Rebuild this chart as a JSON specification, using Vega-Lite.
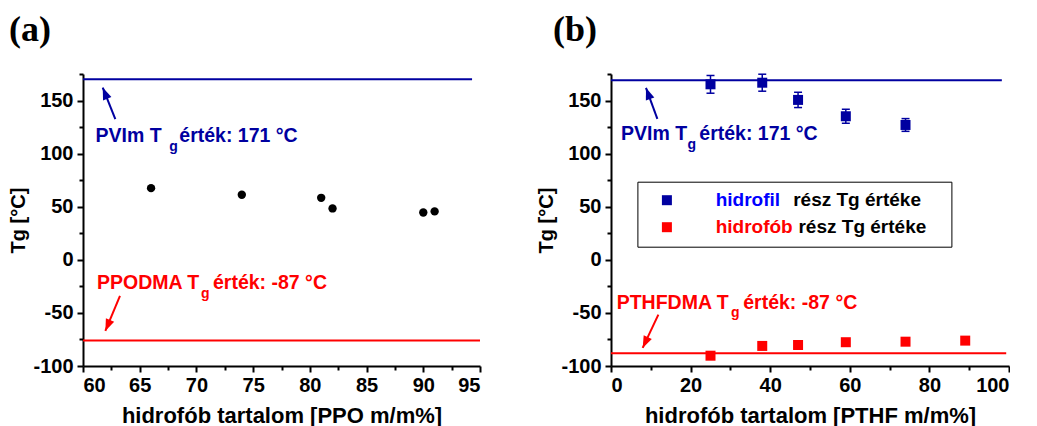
{
  "$schema": "https://vega.github.io/schema/vega-lite/v6.json",
  "padding": {"left": 8, "top": 12, "right": 0, "bottom": 0},
  "spacing": 55,
  "config": {
    "view": {"stroke": null},
    "font": "Liberation Sans",
    "axis": {
      "grid": false,
      "domainColor": "black", "domainWidth": 2,
      "tickColor": "black", "tickWidth": 2, "tickSize": 6,
      "labelFont": "Liberation Sans", "labelFontSize": 20, "labelFontWeight": "bold", "labelColor": "black",
      "labelExpr": "replace(datum.label, '\u2212', '-')",
      "titleFont": "Liberation Sans", "titleFontSize": 22, "titleFontWeight": "bold", "titleColor": "black"
    },
    "axisX": {"labelPadding": 3, "titlePadding": 10},
    "axisY": {"labelPadding": 4, "titlePadding": 4, "titleFontSize": 20},
    "title": {"font": "Liberation Serif", "fontSize": 36, "fontWeight": "bold", "color": "black", "anchor": "start", "frame": "bounds"}
  },
  "datasets": {
    "ptsA": [
      {"x": 66, "Tg": 67.5}, {"x": 74, "Tg": 61.3}, {"x": 81, "Tg": 58.4},
      {"x": 82, "Tg": 48.4}, {"x": 90, "Tg": 44.6}, {"x": 91, "Tg": 45.6}
    ],
    "linesA": [
      {"grp": "PVIm", "x": 60, "x2": 94.3, "y": 170},
      {"grp": "PPODMA", "x": 60, "x2": 95, "y": -76}
    ],
    "arrowsA": [
      {"grp": "PVIm", "x": 62.85, "y": 132.4, "x2": 61.74, "y2": 162.2},
      {"grp": "PPODMA", "x": 63.26, "y": -34, "x2": 61.97, "y2": -67}
    ],
    "textA": [
      {"grp": "PVIm", "kind": "main", "t": "PVIm T", "x": 61.1, "y": 110.5},
      {"grp": "PVIm", "kind": "sub", "t": "g", "x": 67.61, "y": 102.5},
      {"grp": "PVIm", "kind": "main", "t": "érték: 171 °C", "x": 68.49, "y": 110.5},
      {"grp": "PPODMA", "kind": "main", "t": "PPODMA T", "x": 61.23, "y": -27.8},
      {"grp": "PPODMA", "kind": "sub", "t": "g", "x": 70.4, "y": -35.8},
      {"grp": "PPODMA", "kind": "main", "t": "érték: -87 °C", "x": 71.46, "y": -27.8}
    ],
    "ptsB": [
      {"x": 25, "Tg": 165.3, "part": "hidrofil", "word": "hidrofil"},
      {"x": 38, "Tg": 166.8, "part": "hidrofil", "word": "hidrofil"},
      {"x": 47, "Tg": 150.6, "part": "hidrofil", "word": "hidrofil"},
      {"x": 59, "Tg": 135.2, "part": "hidrofil", "word": "hidrofil"},
      {"x": 74, "Tg": 127, "part": "hidrofil", "word": "hidrofil"},
      {"x": 25, "Tg": -90.3, "part": "hidrofób", "word": "hidrofób"},
      {"x": 38, "Tg": -81.1, "part": "hidrofób", "word": "hidrofób"},
      {"x": 47, "Tg": -80.2, "part": "hidrofób", "word": "hidrofób"},
      {"x": 59, "Tg": -77.6, "part": "hidrofób", "word": "hidrofób"},
      {"x": 74, "Tg": -77.1, "part": "hidrofób", "word": "hidrofób"},
      {"x": 89, "Tg": -76.1, "part": "hidrofób", "word": "hidrofób"}
    ],
    "errB": [
      {"x": 25, "lo": 156.9, "hi": 173.6},
      {"x": 38, "lo": 158.8, "hi": 174.8},
      {"x": 47, "lo": 143.4, "hi": 157.8},
      {"x": 59, "lo": 128.6, "hi": 141.8},
      {"x": 74, "lo": 121, "hi": 133}
    ],
    "linesB": [
      {"grp": "PVIm", "x": 0, "x2": 98.2, "y": 169.2},
      {"grp": "PTHFDMA", "x": 0, "x2": 99.3, "y": -88}
    ],
    "arrowsB": [
      {"grp": "PVIm", "x": 11.65, "y": 132.7, "x2": 8.79, "y2": 162},
      {"grp": "PTHFDMA", "x": 11.9, "y": -51.6, "x2": 7.96, "y2": -83}
    ],
    "textB": [
      {"grp": "PVIm", "kind": "main", "t": "PVIm T", "x": 2.51, "y": 112.5},
      {"grp": "PVIm", "kind": "sub", "t": "g", "x": 19.25, "y": 104.2},
      {"grp": "PVIm", "kind": "main", "t": "érték: 171 °C", "x": 22.19, "y": 112.5},
      {"grp": "PTHFDMA", "kind": "main", "t": "PTHFDMA T", "x": 1.43, "y": -46.5},
      {"grp": "PTHFDMA", "kind": "sub", "t": "g", "x": 30.12, "y": -53.8},
      {"grp": "PTHFDMA", "kind": "main", "t": "érték: -87 °C", "x": 33.23, "y": -46.5}
    ]
  },
  "resolve": {
    "scale": {"x": "independent", "y": "independent", "color": "independent", "shape": "independent"},
    "legend": {"color": "independent", "shape": "independent"}
  },
  "hconcat": [
    {
      "title": {"text": "(a)", "offset": 24, "dx": 0},
      "width": 397, "height": 292,
      "resolve": {"axis": {"x": "independent", "y": "independent"}},
      "layer": [
        {
          "data": {"name": "linesA"},
          "transform": [{"filter": "datum.grp == 'PVIm'"}],
          "mark": {"type": "rule", "color": "#0000A0", "strokeWidth": 2},
          "encoding": {
            "x": {"field": "x", "type": "quantitative", "axis": null},
            "x2": {"field": "x2"},
            "y": {"field": "y", "type": "quantitative", "axis": null}
          }
        },
        {
          "data": {"name": "linesA"},
          "transform": [{"filter": "datum.grp == 'PPODMA'"}],
          "mark": {"type": "rule", "color": "#FF0000", "strokeWidth": 2},
          "encoding": {
            "x": {"field": "x", "type": "quantitative", "axis": null},
            "x2": {"field": "x2"},
            "y": {"field": "y", "type": "quantitative", "axis": null}
          }
        },
        {
          "data": {"name": "arrowsA"},
          "transform": [{"filter": "datum.grp == 'PVIm'"}],
          "mark": {"type": "rule", "color": "#0000A0", "strokeWidth": 2},
          "encoding": {
            "x": {"field": "x", "type": "quantitative", "axis": null},
            "y": {"field": "y", "type": "quantitative", "axis": null},
            "x2": {"field": "x2"},
            "y2": {"field": "y2"}
          }
        },
        {
          "data": {"name": "arrowsA"},
          "transform": [{"filter": "datum.grp == 'PVIm'"}],
          "mark": {"type": "point", "shape": "M0,0L0.75,2L-0.75,2Z", "size": 144, "filled": true, "color": "#0000A0", "opacity": 1, "angle": 338},
          "encoding": {
            "x": {"field": "x2", "type": "quantitative", "axis": null},
            "y": {"field": "y2", "type": "quantitative", "axis": null}
          }
        },
        {
          "data": {"name": "arrowsA"},
          "transform": [{"filter": "datum.grp == 'PPODMA'"}],
          "mark": {"type": "rule", "color": "#FF0000", "strokeWidth": 2},
          "encoding": {
            "x": {"field": "x", "type": "quantitative", "axis": null},
            "y": {"field": "y", "type": "quantitative", "axis": null},
            "x2": {"field": "x2"},
            "y2": {"field": "y2"}
          }
        },
        {
          "data": {"name": "arrowsA"},
          "transform": [{"filter": "datum.grp == 'PPODMA'"}],
          "mark": {"type": "point", "shape": "M0,0L0.75,2L-0.75,2Z", "size": 144, "filled": true, "color": "#FF0000", "opacity": 1, "angle": 203},
          "encoding": {
            "x": {"field": "x2", "type": "quantitative", "axis": null},
            "y": {"field": "y2", "type": "quantitative", "axis": null}
          }
        },
        {
          "data": {"name": "textA"},
          "transform": [{"filter": "datum.grp == 'PVIm' && datum.kind == 'main'"}],
          "mark": {"type": "text", "align": "left", "baseline": "alphabetic", "font": "Liberation Sans", "fontWeight": "bold", "fontSize": 19.5, "color": "#0000A0"},
          "encoding": {
            "x": {"field": "x", "type": "quantitative", "axis": null},
            "y": {"field": "y", "type": "quantitative", "axis": null},
            "text": {"field": "t"}
          }
        },
        {
          "data": {"name": "textA"},
          "transform": [{"filter": "datum.grp == 'PVIm' && datum.kind == 'sub'"}],
          "mark": {"type": "text", "align": "left", "baseline": "alphabetic", "font": "Liberation Sans", "fontWeight": "bold", "fontSize": 14, "color": "#0000A0"},
          "encoding": {
            "x": {"field": "x", "type": "quantitative", "axis": null},
            "y": {"field": "y", "type": "quantitative", "axis": null},
            "text": {"field": "t"}
          }
        },
        {
          "data": {"name": "textA"},
          "transform": [{"filter": "datum.grp == 'PPODMA' && datum.kind == 'main'"}],
          "mark": {"type": "text", "align": "left", "baseline": "alphabetic", "font": "Liberation Sans", "fontWeight": "bold", "fontSize": 19.5, "color": "#FF0000"},
          "encoding": {
            "x": {"field": "x", "type": "quantitative", "axis": null},
            "y": {"field": "y", "type": "quantitative", "axis": null},
            "text": {"field": "t"}
          }
        },
        {
          "data": {"name": "textA"},
          "transform": [{"filter": "datum.grp == 'PPODMA' && datum.kind == 'sub'"}],
          "mark": {"type": "text", "align": "left", "baseline": "alphabetic", "font": "Liberation Sans", "fontWeight": "bold", "fontSize": 14, "color": "#FF0000"},
          "encoding": {
            "x": {"field": "x", "type": "quantitative", "axis": null},
            "y": {"field": "y", "type": "quantitative", "axis": null},
            "text": {"field": "t"}
          }
        },
        {
          "data": {"name": "ptsA"},
          "mark": {"type": "circle", "color": "black", "size": 70, "opacity": 1},
          "encoding": {
            "x": {"field": "x", "type": "quantitative",
                  "scale": {"domain": [60, 95], "nice": false, "zero": false},
                  "axis": {"orient": "bottom", "values": [60, 65, 70, 75, 80, 85, 90, 95], "title": "hidrofób tartalom [PPO m/m%]"}},
            "y": {"field": "Tg", "type": "quantitative",
                  "scale": {"domain": [-100, 175], "nice": false, "zero": false},
                  "axis": {"orient": "left", "values": [-100, -50, 0, 50, 100, 150], "title": "Tg [°C]"}}
          }
        },
        {
          "data": {"name": "ptsA"},
          "mark": {"type": "point", "opacity": 0},
          "encoding": {
            "x": {"field": "x", "type": "quantitative",
                  "axis": {"orient": "bottom", "values": [62.5, 67.5, 72.5, 77.5, 82.5, 87.5, 92.5], "labels": false, "domain": false, "tickSize": 4, "title": null}},
            "y": {"field": "Tg", "type": "quantitative",
                  "axis": {"orient": "left", "values": [-75, -25, 25, 75, 125, 175], "labels": false, "domain": false, "tickSize": 4, "title": null}}
          }
        }
      ]
    },
    {
      "title": {"text": "(b)", "offset": 24, "dx": 16},
      "width": 398, "height": 292,
      "resolve": {"axis": {"x": "independent", "y": "independent"}},
      "layer": [
        {
          "data": {"name": "linesB"},
          "transform": [{"filter": "datum.grp == 'PVIm'"}],
          "mark": {"type": "rule", "color": "#0000A0", "strokeWidth": 2},
          "encoding": {
            "x": {"field": "x", "type": "quantitative", "axis": null},
            "x2": {"field": "x2"},
            "y": {"field": "y", "type": "quantitative", "axis": null}
          }
        },
        {
          "data": {"name": "linesB"},
          "transform": [{"filter": "datum.grp == 'PTHFDMA'"}],
          "mark": {"type": "rule", "color": "#FF0000", "strokeWidth": 2},
          "encoding": {
            "x": {"field": "x", "type": "quantitative", "axis": null},
            "x2": {"field": "x2"},
            "y": {"field": "y", "type": "quantitative", "axis": null}
          }
        },
        {
          "data": {"name": "arrowsB"},
          "transform": [{"filter": "datum.grp == 'PVIm'"}],
          "mark": {"type": "rule", "color": "#0000A0", "strokeWidth": 2},
          "encoding": {
            "x": {"field": "x", "type": "quantitative", "axis": null},
            "y": {"field": "y", "type": "quantitative", "axis": null},
            "x2": {"field": "x2"},
            "y2": {"field": "y2"}
          }
        },
        {
          "data": {"name": "arrowsB"},
          "transform": [{"filter": "datum.grp == 'PVIm'"}],
          "mark": {"type": "point", "shape": "M0,0L0.75,2L-0.75,2Z", "size": 144, "filled": true, "color": "#0000A0", "opacity": 1, "angle": 340},
          "encoding": {
            "x": {"field": "x2", "type": "quantitative", "axis": null},
            "y": {"field": "y2", "type": "quantitative", "axis": null}
          }
        },
        {
          "data": {"name": "arrowsB"},
          "transform": [{"filter": "datum.grp == 'PTHFDMA'"}],
          "mark": {"type": "rule", "color": "#FF0000", "strokeWidth": 2},
          "encoding": {
            "x": {"field": "x", "type": "quantitative", "axis": null},
            "y": {"field": "y", "type": "quantitative", "axis": null},
            "x2": {"field": "x2"},
            "y2": {"field": "y2"}
          }
        },
        {
          "data": {"name": "arrowsB"},
          "transform": [{"filter": "datum.grp == 'PTHFDMA'"}],
          "mark": {"type": "point", "shape": "M0,0L0.75,2L-0.75,2Z", "size": 144, "filled": true, "color": "#FF0000", "opacity": 1, "angle": 205},
          "encoding": {
            "x": {"field": "x2", "type": "quantitative", "axis": null},
            "y": {"field": "y2", "type": "quantitative", "axis": null}
          }
        },
        {
          "data": {"name": "textB"},
          "transform": [{"filter": "datum.grp == 'PVIm' && datum.kind == 'main'"}],
          "mark": {"type": "text", "align": "left", "baseline": "alphabetic", "font": "Liberation Sans", "fontWeight": "bold", "fontSize": 19.5, "color": "#0000A0"},
          "encoding": {
            "x": {"field": "x", "type": "quantitative", "axis": null},
            "y": {"field": "y", "type": "quantitative", "axis": null},
            "text": {"field": "t"}
          }
        },
        {
          "data": {"name": "textB"},
          "transform": [{"filter": "datum.grp == 'PVIm' && datum.kind == 'sub'"}],
          "mark": {"type": "text", "align": "left", "baseline": "alphabetic", "font": "Liberation Sans", "fontWeight": "bold", "fontSize": 14, "color": "#0000A0"},
          "encoding": {
            "x": {"field": "x", "type": "quantitative", "axis": null},
            "y": {"field": "y", "type": "quantitative", "axis": null},
            "text": {"field": "t"}
          }
        },
        {
          "data": {"name": "textB"},
          "transform": [{"filter": "datum.grp == 'PTHFDMA' && datum.kind == 'main'"}],
          "mark": {"type": "text", "align": "left", "baseline": "alphabetic", "font": "Liberation Sans", "fontWeight": "bold", "fontSize": 19.5, "color": "#FF0000"},
          "encoding": {
            "x": {"field": "x", "type": "quantitative", "axis": null},
            "y": {"field": "y", "type": "quantitative", "axis": null},
            "text": {"field": "t"}
          }
        },
        {
          "data": {"name": "textB"},
          "transform": [{"filter": "datum.grp == 'PTHFDMA' && datum.kind == 'sub'"}],
          "mark": {"type": "text", "align": "left", "baseline": "alphabetic", "font": "Liberation Sans", "fontWeight": "bold", "fontSize": 14, "color": "#FF0000"},
          "encoding": {
            "x": {"field": "x", "type": "quantitative", "axis": null},
            "y": {"field": "y", "type": "quantitative", "axis": null},
            "text": {"field": "t"}
          }
        },
        {
          "data": {"name": "errB"},
          "mark": {"type": "rule", "color": "#0000A0", "strokeWidth": 1.5},
          "encoding": {
            "x": {"field": "x", "type": "quantitative", "axis": null},
            "y": {"field": "lo", "type": "quantitative", "axis": null},
            "y2": {"field": "hi"}
          }
        },
        {
          "data": {"name": "errB"},
          "mark": {"type": "tick", "orient": "horizontal", "color": "#0000A0", "size": 8, "thickness": 1.5, "opacity": 1},
          "encoding": {
            "x": {"field": "x", "type": "quantitative", "axis": null},
            "y": {"field": "lo", "type": "quantitative", "axis": null}
          }
        },
        {
          "data": {"name": "errB"},
          "mark": {"type": "tick", "orient": "horizontal", "color": "#0000A0", "size": 8, "thickness": 1.5, "opacity": 1},
          "encoding": {
            "x": {"field": "x", "type": "quantitative", "axis": null},
            "y": {"field": "hi", "type": "quantitative", "axis": null}
          }
        },
        {
          "data": {"name": "ptsB"},
          "mark": {"type": "point", "filled": true, "size": 100, "opacity": 1},
          "encoding": {
            "x": {"field": "x", "type": "quantitative",
                  "scale": {"domain": [0, 100], "nice": false, "zero": false},
                  "axis": {"orient": "bottom", "values": [0, 20, 40, 60, 80, 100], "title": "hidrofób tartalom [PTHF m/m%]"}},
            "y": {"field": "Tg", "type": "quantitative",
                  "scale": {"domain": [-100, 175], "nice": false, "zero": false},
                  "axis": {"orient": "left", "values": [-100, -50, 0, 50, 100, 150], "title": "Tg [°C]"}},
            "color": {"field": "part", "type": "nominal",
                      "scale": {"domain": ["hidrofil", "hidrofób"], "range": ["#0000A0", "#FF0000"]},
                      "legend": {"title": null, "orient": "none", "legendX": 26.4, "legendY": 107.7, "zindex": 0,
                                 "symbolType": "square", "symbolSize": 100, "symbolStrokeWidth": 0,
                                 "padding": 9, "symbolOffset": 11, "labelOffset": 116.8, "rowPadding": 7,
                                 "strokeColor": "black",
                                 "labelFont": "Liberation Sans", "labelFontSize": 19, "labelFontWeight": "bold", "labelColor": "black", "labelLimit": 500,
                                 "labelExpr": "(datum.value == 'hidrofil' ? '' : '\u200b\u00a0') + 'rész Tg értéke\u00a0\u00a0\u00a0\u200b'"}},
            "shape": {"field": "word", "type": "nominal",
                      "scale": {"range": ["square", "square"]},
                      "legend": {"title": null, "orient": "none", "legendX": 26.4, "legendY": 107.7, "zindex": 2,
                                 "symbolSize": 100, "symbolOpacity": 0, "symbolStrokeWidth": 0,
                                 "padding": 9, "symbolOffset": 11, "labelOffset": 39.3, "rowPadding": 7,
                                 "labelFont": "Liberation Sans", "labelFontSize": 19, "labelFontWeight": "bold", "labelLimit": 500,
                                 "labelColor": {"expr": "datum.value == 'hidrofil' ? '#0000FF' : '#FF0000'"}}}
          }
        },
        {
          "data": {"name": "ptsB"},
          "mark": {"type": "point", "opacity": 0},
          "encoding": {
            "x": {"field": "x", "type": "quantitative",
                  "axis": {"orient": "bottom", "values": [10, 30, 50, 70, 90], "labels": false, "domain": false, "tickSize": 4, "title": null}},
            "y": {"field": "Tg", "type": "quantitative",
                  "axis": {"orient": "left", "values": [-75, -25, 25, 75, 125, 175], "labels": false, "domain": false, "tickSize": 4, "title": null}}
          }
        }
      ]
    }
  ]
}
